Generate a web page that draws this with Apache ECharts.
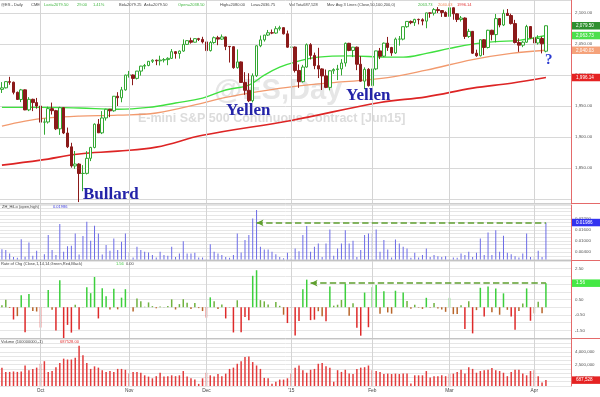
<!DOCTYPE html>
<html>
<head>
<meta charset="utf-8">
<script src="https://cdn.jsdelivr.net/npm/echarts@6/dist/echarts.min.js"></script>
<style>
html,body{margin:0;padding:0;background:#fff;}
#main{width:600px;height:397px;}
</style>
</head>
<body>
<div id="main"></div>
<script>
// trading days (last six are empty room right of the last bar)
var dates = [
 '2014-09-17','2014-09-18','2014-09-19','2014-09-22','2014-09-23','2014-09-24','2014-09-25','2014-09-26','2014-09-29','2014-09-30',
 '2014-10-01','2014-10-02','2014-10-03','2014-10-06','2014-10-07','2014-10-08','2014-10-09','2014-10-10','2014-10-13','2014-10-14',
 '2014-10-15','2014-10-16','2014-10-17','2014-10-20','2014-10-21','2014-10-22','2014-10-23','2014-10-24','2014-10-27','2014-10-28',
 '2014-10-29','2014-10-30','2014-10-31','2014-11-03','2014-11-04','2014-11-05','2014-11-06','2014-11-07','2014-11-10','2014-11-11',
 '2014-11-12','2014-11-13','2014-11-14','2014-11-17','2014-11-18','2014-11-19','2014-11-20','2014-11-21','2014-11-24','2014-11-25',
 '2014-11-26','2014-11-27','2014-11-28','2014-12-01','2014-12-02','2014-12-03','2014-12-04','2014-12-05','2014-12-08','2014-12-09',
 '2014-12-10','2014-12-11','2014-12-12','2014-12-15','2014-12-16','2014-12-17','2014-12-18','2014-12-19','2014-12-22','2014-12-23',
 '2014-12-24','2014-12-26','2014-12-29','2014-12-30','2014-12-31','2015-01-02','2015-01-05','2015-01-06','2015-01-07','2015-01-08',
 '2015-01-09','2015-01-12','2015-01-13','2015-01-14','2015-01-15','2015-01-16','2015-01-19','2015-01-20','2015-01-21','2015-01-22',
 '2015-01-23','2015-01-26','2015-01-27','2015-01-28','2015-01-29','2015-01-30','2015-02-02','2015-02-03','2015-02-04','2015-02-05',
 '2015-02-06','2015-02-09','2015-02-10','2015-02-11','2015-02-12','2015-02-13','2015-02-16','2015-02-17','2015-02-18','2015-02-19',
 '2015-02-20','2015-02-23','2015-02-24','2015-02-25','2015-02-26','2015-02-27','2015-03-02','2015-03-03','2015-03-04','2015-03-05',
 '2015-03-06','2015-03-09','2015-03-10','2015-03-11','2015-03-12','2015-03-13','2015-03-16','2015-03-17','2015-03-18','2015-03-19',
 '2015-03-20','2015-03-23','2015-03-24','2015-03-25','2015-03-26','2015-03-27','2015-03-30','2015-03-31','2015-04-01','2015-04-02',
 '2015-04-03','2015-04-06',
 '2015-04-07','2015-04-08','2015-04-09','2015-04-10','2015-04-13','2015-04-14'
];

var monthStarts = ['2014-10-01','2014-11-03','2014-12-01','2015-01-02','2015-02-02','2015-03-02','2015-04-01'];
var monthNames = ['Oct','Nov','Dec',"'15",'Feb','Mar','Apr'];

var opens = [
 1977,1979.5,1989.5,1988.5,1972.25,1960.75,1976.25,1944,1961,1955.75,
 1950.25,1924.25,1924.5,1946,1942.75,1913.5,1947.5,1906.75,1884.5,1853.75,
 1856.75,1841.5,1841.75,1866,1883.5,1921,1907,1931,1945,1942.5,
 1966,1963.5,1976.25,2000,2000.25,1994.75,2006.5,2014.5,2015.5,2022.25,
 2024,2023,2024.25,2025,2027,2037.75,2034.75,2038.75,2049.5,2055.5,
 2053,2058.75,2057.5,2053.5,2039.5,2052.5,2060.25,2058,2061.5,2046.25,
 2045.75,2012,2021.25,1988.25,1975.5,1958.75,1999,2047.25,2056.75,2064.5,
 2068.25,2067.75,2074.75,2076.5,2066.5,2045,2045.25,2007.5,1989.5,2013,
 2049,2031.75,2015.25,2010,1998.75,1980.25,2007,2009,2010,2019.5,
 2051.25,2039.75,2045,2017.5,1990.25,2009.25,1983,2010,2039,2030.5,
 2051.5,2044.5,2035.75,2058,2058,2078,2086.5,2084.5,2089.75,2089.25,
 2087,2100.25,2099.75,2105.5,2104,2100.75,2094.5,2108.5,2098.75,2089.5,
 2092,2062.25,2070.5,2035.25,2031.25,2057,2044.5,2072.25,2065.25,2091,
 2080.75,2099.5,2096,2083,2052.5,2048.25,2053,2078.25,2060,2051.75,
 2059,2038.5
];
var highs = [
 1988.75,1990.25,1997.25,1989.5,1973.5,1977.75,1977,1964.5,1962,1963.25,
 1951,1930.25,1949.25,1955.75,1944,1949,1948,1915.5,1891,1877.75,
 1858,1855,1877.5,1884.5,1922.25,1929.25,1942,1945.75,1945.5,1966.25,
 1972.5,1981,2000.75,2006.75,2001,2006.75,2015,2018,2022.75,2025.5,
 2025,2031.25,2027.5,2028.75,2042,2038.5,2039.75,2057.5,2056.25,2060.25,
 2059.25,2060,2061.75,2054,2054.75,2062.25,2063.25,2065.5,2062,2046.5,
 2046.5,2041.5,2022,2004.75,2003,2002.75,2048,2063.75,2064.75,2072.75,
 2073.5,2078.75,2079.5,2077,2071.75,2059.5,2046,2017.25,2016.5,2051,
 2051.5,2036.25,2044,2011,2009,2008,2011,2016.5,2025.75,2052.5,
 2052,2045.5,2046,2030.5,2012.5,2011.25,2012.25,2039.25,2043.75,2052.5,
 2061.5,2045.5,2060.5,2063,2078,2086.5,2088,2090.75,2091,2091.5,
 2100.5,2101,2108,2109.5,2104.5,2102.75,2109,2109,2099.5,2095.25,
 2093,2074.5,2071,2041,2057.5,2058,2073,2073,2098.5,2092,
 2105.5,2106.5,2099,2089,2059.25,2054.75,2081,2079,2061,2064.25,
 2062,2080
];
var lows = [
 1971.25,1978.5,1984.5,1969,1960.25,1956.5,1943.5,1942,1942,1946,
 1919.75,1904,1922,1936.5,1911.5,1903.75,1905,1882.5,1851,1849,
 1795.5,1813,1840,1861.5,1882,1906.75,1905,1926.75,1932.25,1941,
 1950.25,1956.25,1975,1996,1983.75,1993,1999.25,2009.5,2014.25,2019.5,
 2016,2015.5,2020.5,2016,2026,2026.5,2026.5,2037.5,2048.5,2050.75,
 2052.5,2055,2051,2035.5,2038,2050.5,2048.25,2056.75,2040.25,2020.25,
 2010.25,2010.5,1988,1968.25,1956.5,1956,1997,2045,2054,2063,
 2066,2066.5,2071.75,2065.5,2044,2033,2004.25,1979.5,1988,2012,
 2025.25,2009.5,1995.25,1976,1979,1975.5,2002,1992,1999.5,2013.75,
 2038.5,2029,2008,1989.5,1977.25,1981.5,1970,2008,2025.75,2029,
 2039,2031,2034,2047.5,2056,2076.25,2082,2079.25,2081.75,2080.25,
 2075.5,2092.5,2096,2100,2093.75,2093.75,2093,2089.25,2085.5,2086.25,
 2058.25,2060,2034,2029.5,2030,2032.25,2043,2056,2052.75,2077,
 2079,2095.75,2081.5,2051,2037.5,2045,2052,2059,2040.5,2049.25,
 2035,2036.75
];
var closes = [
 1979.5,1989.5,1988.5,1972.25,1960.75,1976.25,1944,1961,1955.75,1950.25,
 1924.25,1924.5,1946,1942.75,1913.5,1947.5,1906.75,1884.5,1853.75,1856.75,
 1841.5,1841.75,1866,1883.5,1921,1907,1931,1945,1942.5,1966,
 1963.5,1976.25,2000,2000.25,1994.75,2006.5,2014.5,2015.5,2022.25,2024,
 2023,2024.25,2025,2027,2037.75,2034.75,2038.75,2049.5,2055.5,2053,
 2058.75,2057.5,2053.5,2039.5,2052.5,2060.25,2058,2061.5,2046.25,2045.75,
 2012,2021.25,1988.25,1975.5,1958.75,1999,2047.25,2056.75,2064.5,2068.25,
 2067.75,2074.75,2076.5,2066.5,2045,2045.25,2007.5,1989.5,2013,2049,
 2031.75,2015.25,2010,1998.75,1980.25,2007,2009,2010,2019.5,2051.25,
 2039.75,2045,2017.5,1990.25,2009.25,1983,2010,2039,2030.5,2051.5,
 2044.5,2035.75,2058,2058,2078,2086.5,2084.5,2089.75,2089.25,2087,
 2100.25,2099.75,2105.5,2104,2100.75,2094.5,2108.5,2098.75,2089.5,2092,
 2062.25,2070.5,2035.25,2031.25,2057,2044.5,2072.25,2065.25,2091,2080.75,
 2099.5,2096,2083,2052.5,2048.25,2053,2078.25,2060,2051.75,2059,
 2050.5,2079.5
];

// moving averages read at sample bars: [bar index, value]
var ma50Pts = [[0,1948],[10,1948],[20,1947],[30,1945],[38,1948],[45,1955],[52,1963],[58,1976],[64,1984],[68,2000],[72,2013],[76,2021],[82,2029],[90,2031],[100,2029],[104,2029],[110,2035],[116,2043],[122,2050],[128,2054],[134,2056],[141,2063.73]];
var ma100Pts = [[0,1918],[6,1926],[12,1931],[20,1934],[30,1935.5],[40,1939],[52,1955],[58,1964],[66,1973],[76,1982],[88,1989],[100,1996],[110,2008],[122,2025],[132,2035],[141,2040.03]];
var ma200Pts = [[0,1855],[10,1863],[20,1873],[30,1877.5],[40,1884],[52,1903],[75,1927],[98,1956],[110,1965],[122,1979],[132,1987],[141,1996.14]];

var hiLo = [
 0.0056,0.0051,0.0033,0.0014,0.0010,0.0110,0.0015,0.0092,0.0020,0.0047,
 0.0027,0.0029,0.0132,0.0051,0.0024,0.0192,0.0042,0.0072,0.0074,0.0141,
 0.0027,0.0127,0.0204,0.0101,0.0183,0.0141,0.0027,0.0078,0.0047,0.0114,
 0.0051,0.0096,0.0141,0.0038,0.0011,0.0069,0.0051,0.0042,0.0038,0.0024,
 0.0011,0.0042,0.0024,0.0020,0.0069,0.0014,0.0033,0.0099,0.0033,0.0033,
 0.0036,0.0011,0.0011,0.0005,0.0083,0.0042,0.0033,0.0024,0.0014,0.0009,
 0.0024,0.0141,0.0038,0.0105,0.0132,0.0222,0.0268,0.0069,0.0054,0.0054,
 0.0042,0.0029,0.0014,0.0007,0.0036,0.0007,0.0060,0.0045,0.0132,0.0181,
 0.0042,0.0069,0.0087,0.0014,0.0087,0.0163,0.0020,0.0060,0.0087,0.0159,
 0.0087,0.0101,0.0014,0.0051,0.0132,0.0141,0.0141,0.0163,0.0042,0.0105,
 0.0054,0.0011,0.0108,0.0087,0.0069,0.0060,0.0010,0.0036,0.0011,0.0024,
 0.0060,0.0014,0.0024,0.0018,0.0014,0.0018,0.0054,0.0011,0.0010,0.0033,
 0.0024,0.0042,0.0014,0.0036,0.0114,0.0024,0.0146,0.0024,0.0159,0.0042,
 0.0128,0.0036,0.0029,0.0018,0.0011,0.0033,0.0141,0.0014,0.0014,0.0047,
 0.0014,0.01986
];

var rateChg = [
 0.13,0.49,-0.05,-0.80,-0.58,0.78,-1.62,0.86,-0.25,-0.28,
 -1.32,0.01,1.12,-0.16,-1.51,1.75,-2.07,-1.15,-1.65,0.16,
 -1.45,0.01,1.29,0.91,1.96,-0.73,1.23,0.71,-0.15,1.19,
 -0.14,0.62,1.17,-0.01,-0.28,0.57,0.38,0.03,0.31,0.07,
 -0.07,0.05,0.02,0.07,0.51,-0.15,0.20,0.52,0.29,-0.12,
 0.28,-0.06,-0.25,-0.68,0.64,0.38,-0.12,0.17,-0.73,-0.02,
 -1.64,0.45,-1.62,-0.63,-0.85,2.04,2.40,0.46,0.38,0.17,
 -0.01,0.33,0.09,-0.49,-1.03,-0.03,-1.83,-0.89,1.16,1.79,
 -0.84,-0.81,-0.26,-0.58,-0.92,1.34,0.10,0.16,0.47,1.53,
 -0.55,0.26,-1.34,-1.85,0.95,-1.30,1.30,1.44,-0.42,1.03,
 -0.34,-0.42,1.07,0.00,0.96,0.41,-0.10,0.16,-0.03,-0.11,
 0.61,-0.03,0.28,-0.08,-0.15,-0.30,0.61,-0.45,-0.44,0.12,
 -1.42,0.39,-1.70,-0.19,1.26,-0.61,1.35,-0.33,1.22,-0.49,
 0.90,-0.17,-0.61,-1.46,-0.24,0.24,1.22,-0.88,-0.40,0.35,
 -0.40,1.56
];

var volumes = [
 2150000,1650000,1650000,1700000,1650000,1700000,2400000,1850000,2000000,2150000,
 2600000,2900000,1650000,1750000,2200000,2700000,3200000,3100000,3100000,3300000,
 4700000,3600000,2700000,2000000,2300000,2150000,1850000,1650000,1750000,1650000,
 2000000,2000000,1900000,1450000,1650000,1650000,1550000,1250000,1100000,900000,
 1150000,1550000,1100000,1150000,1250000,1150000,1250000,1750000,1100000,900000,
 750000,250000,900000,1550000,1250000,1100000,1400000,1150000,1450000,2000000,
 2150000,2600000,2900000,3400000,3450000,2800000,2400000,2000000,950000,900000,
 250000,500000,750000,750000,900000,1450000,2150000,2400000,1850000,1550000,
 1900000,2000000,2600000,2700000,2300000,2150000,500000,1850000,1650000,1900000,
 1450000,1400000,2000000,2150000,2200000,2400000,1850000,1750000,1650000,1400000,
 1450000,1400000,1450000,1400000,1450000,1450000,300000,1250000,1250000,1250000,
 1750000,1000000,1150000,1150000,1250000,1150000,1400000,1450000,1650000,1900000,
 1450000,2200000,2000000,1550000,1750000,1850000,1900000,2100000,1850000,1750000,
 1550000,1150000,1650000,1900000,1900000,1450000,1250000,1750000,1850000,1150000,
 400000,687528
];

var chart = echarts.init(document.getElementById('main'));

var candles = [];
for (var i = 0; i < closes.length; i++) {
    candles.push([opens[i], closes[i], lows[i], highs[i]]);
}
var lastDate = dates[closes.length - 1];

function fmt2(v) {
    return v.toLocaleString('en-US', {minimumFractionDigits: 2, maximumFractionDigits: 2});
}

var smallFont = 'Liberation Sans';
var axisRed = '#e46a6a';

function monthLines() {
    return monthStarts.map(function (d) {
        return {xAxis: d, lineStyle: {color: '#d4d4d4', width: 1, type: 'solid'}, label: {show: false}};
    });
}
// coloured value box sitting on the right axis
function boxLine(val, text, bg, fg) {
    return {
        yAxis: val,
        lineStyle: {color: 'rgba(0,0,0,0)', width: 1},
        label: {
            show: true, position: 'end', formatter: text, distance: 1,
            backgroundColor: bg, color: fg || '#fff', fontSize: 4.6, fontFamily: smallFont,
            padding: [1.5, 5, 1, 4], width: 19
        }
    };
}
function dashedArrow(fromIdx, val) {
    return [
        {coord: [dates[fromIdx], val], symbol: 'arrow', symbolSize: [5, 7]},
        {coord: [lastDate, val], symbol: 'none', lineStyle: {color: '#5f9f2f', type: 'dashed', width: 1.6}, label: {show: false}}
    ];
}

var gridPos = [
    {left: 0, right: 29, top: 0, height: 203},
    {left: 0, right: 29, top: 205, height: 54.5},
    {left: 0, right: 29, top: 261, height: 77},
    {left: 0, right: 29, top: 339, height: 47}
];

var xAxes = gridPos.map(function (g, k) {
    return {
        type: 'category', gridIndex: k, data: dates, boundaryGap: true,
        axisLine: {show: false}, axisTick: {show: false}, splitLine: {show: false},
        axisLabel: k === 3 ? {
            show: true, fontSize: 4.8, color: '#444', fontFamily: smallFont, margin: 2,
            interval: function (idx, val) { return monthStarts.indexOf(val) >= 0; },
            formatter: function (val) { return monthNames[monthStarts.indexOf(val)]; }
        } : {show: false}
    };
});

function yBase(k) {
    return {
        type: 'value', gridIndex: k, position: 'right', scale: false,
        axisLine: {show: true, lineStyle: {color: axisRed, width: 1}},
        axisTick: {show: false},
        splitLine: {show: true, lineStyle: {color: k === 0 ? '#d8d8d8' : '#e6e6e6', width: 1}},
        axisLabel: {fontSize: 4.4, color: '#555', fontFamily: smallFont, margin: 4, showMinLabel: false, showMaxLabel: false}
    };
}

var yPrice = yBase(0);
yPrice.min = 1794; yPrice.max = 2121; yPrice.splitNumber = 6;
yPrice.axisLabel.formatter = function (v) { return (v % 50 === 0 && v >= 1850) ? fmt2(v) : ''; };

var yHiLo = yBase(1);
yHiLo.min = 0; yHiLo.max = 0.0295; yHiLo.interval = 0.002;
yHiLo.axisLabel.formatter = function (v) {
    var r = Math.round(v * 1000);
    return [4, 10, 16, 22].indexOf(r) >= 0 ? v.toFixed(5) : '';
};

var yRoc = yBase(2);
yRoc.min = -2; yRoc.max = 3; yRoc.interval = 0.5;
yRoc.axisLabel.formatter = function (v) {
    return Math.abs(Math.round(v * 2)) % 2 === 1 ? v.toFixed(2) : '';
};

var yVol = yBase(3);
yVol.min = 0; yVol.max = 5500000; yVol.interval = 500000;
yVol.axisLabel.formatter = function (v) {
    return (v === 1000000 || v === 2500000 || v === 4000000) ? v.toLocaleString('en-US') : '';
};

function txt(x, y, s, color, font) {
    return {type: 'text', left: x, top: y, silent: true, z: 50,
        style: {text: s, fill: color, font: font || ('4px "' + smallFont + '"')}};
}
function hline(y, x1, x2, color) {
    return {type: 'line', silent: true, z: 40, shape: {x1: x1, y1: y, x2: x2, y2: y}, style: {stroke: color, lineWidth: 1}};
}

var annoFont = 'bold 17px "Liberation Serif"';
var annoColor = '#2323a8';
var hdrDark = '#444', hdrGreen = '#3fb53f';

var graphics = [
    {type: 'text', left: 214, top: 76, silent: true, z: 0,
        style: {text: '@ES,Day', fill: '#e6e6e6', font: 'bold 29px "Liberation Sans"'}},
    {type: 'text', left: 138, top: 112, silent: true, z: 0,
        style: {text: 'E-mini S&P 500 Continuous Contract [Jun15]', fill: '#dcdcdc', font: 'bold 12.5px "Liberation Sans"'}},
    hline(204, 0, 571, '#c4c4c4'), hline(260.5, 0, 571, '#c4c4c4'), hline(338.5, 0, 571, '#c4c4c4'),
    hline(203.5, 571, 600, axisRed), hline(260.5, 571, 600, axisRed), hline(338.5, 571, 600, axisRed),
    txt(1, 3, '@ES - Daily', hdrDark),
    txt(31, 3, 'CME', hdrDark),
    txt(44, 3, 'Last=2079.50', hdrGreen),
    txt(77, 3, '29.00', hdrGreen),
    txt(93, 3, '1.41%', hdrGreen),
    txt(119, 3, 'Bid=2079.25', hdrDark),
    txt(144, 3, 'Ask=2079.50', hdrDark),
    txt(178, 3, 'Open=2038.50', hdrGreen),
    txt(220, 3, 'High=2080.00', hdrDark),
    txt(251, 3, 'Low=2036.75', hdrDark),
    txt(289, 3, 'Vol Tot=687,528', hdrDark),
    txt(327, 3, 'Mov Avg 3 Lines (Close,50,100,200,0)', hdrDark),
    txt(418, 3, '2063.73', hdrGreen),
    txt(438, 3, '2040.03', '#ef8a5a'),
    txt(457, 3, '1996.14', '#e03030'),
    txt(2, 205, 'ZH_HiLo (open,high)', hdrDark),
    txt(53, 205, '0.01986', '#4040e0'),
    txt(1, 262, 'Rate of Chg (Close,1,14,14,Green,Red,Black)', hdrDark),
    txt(116, 262, '1.56', '#3fc83f'),
    txt(126, 262, '0.00', hdrDark),
    txt(1, 340, 'Volume (100000000,-1)', hdrDark),
    txt(60, 340, '687528.00', '#e03030'),
    {type: 'text', left: 83, top: 186, z: 60, silent: true, style: {text: 'Bullard', fill: annoColor, font: annoFont}},
    {type: 'text', left: 226, top: 102, z: 60, silent: true, style: {text: 'Yellen', fill: annoColor, font: annoFont}},
    {type: 'text', left: 346, top: 87, z: 60, silent: true, style: {text: 'Yellen', fill: annoColor, font: annoFont}},
    {type: 'text', left: 545, top: 53, z: 60, silent: true, style: {text: '?', fill: '#2a3ad0', font: 'bold 15px "Liberation Serif"'}}
];

var option = {
    animation: false,
    backgroundColor: '#ffffff',
    grid: gridPos,
    xAxis: xAxes,
    yAxis: [yPrice, yHiLo, yRoc, yVol],
    graphic: graphics,
    series: [
        {
            name: 'ES', type: 'candlestick', xAxisIndex: 0, yAxisIndex: 0, z: 4,
            data: candles, barWidth: 3,
            itemStyle: {color: '#ffffff', color0: '#8b1a1a', borderColor: '#33a833', borderColor0: '#8b1a1a', borderWidth: 1},
            markLine: {silent: true, symbol: ['none', 'none'], animation: false,
                data: monthLines().concat([boxLine(2079.5, '2,079.50', '#2f8f2f')])}
        },
        {
            name: 'MA200', type: 'line', xAxisIndex: 0, yAxisIndex: 0, z: 3,
            data: ma200Pts, smooth: 0.4, showSymbol: false,
            lineStyle: {color: '#dd2424', width: 1.6},
            markLine: {silent: true, symbol: ['none', 'none'], data: [boxLine(1996.14, '1,996.14', '#e52222')]}
        },
        {
            name: 'MA100', type: 'line', xAxisIndex: 0, yAxisIndex: 0, z: 3,
            data: ma100Pts, smooth: 0.4, showSymbol: false,
            lineStyle: {color: '#f29a6e', width: 1.3},
            markLine: {silent: true, symbol: ['none', 'none'], data: [boxLine(2040.03, '2,040.03', '#f5a27a')]}
        },
        {
            name: 'MA50', type: 'line', xAxisIndex: 0, yAxisIndex: 0, z: 3,
            data: ma50Pts, smooth: 0.4, showSymbol: false,
            lineStyle: {color: '#3fe03f', width: 1.4},
            markLine: {silent: true, symbol: ['none', 'none'], data: [boxLine(2063.73, '2,063.73', '#4ddf4d')]}
        },
        {
            name: 'ZH_HiLo', type: 'bar', xAxisIndex: 1, yAxisIndex: 1,
            data: hiLo, barWidth: 1, itemStyle: {color: '#6b6be6'},
            markLine: {silent: true, symbol: ['none', 'none'],
                data: monthLines().concat([boxLine(0.01986, '0.01986', '#3232f0'), dashedArrow(66, 0.01986)])}
        },
        {
            name: 'Rate of Chg', type: 'bar', xAxisIndex: 2, yAxisIndex: 2,
            data: rateChg, barWidth: 1.5,
            itemStyle: {
                color: function (p) {
                    var v = p.value;
                    if (v >= 0) return v >= 0.6 ? '#3ccf3c' : '#6fb23f';
                    return v <= -0.6 ? '#de2a2a' : '#b8652a';
                }
            },
            markLine: {silent: true, symbol: ['none', 'none'],
                data: monthLines().concat([boxLine(1.56, '1.56', '#45e845'), dashedArrow(80, 1.56)])}
        },
        {
            name: 'Volume', type: 'bar', xAxisIndex: 3, yAxisIndex: 3,
            data: volumes, barWidth: 1.5, itemStyle: {color: '#e23c3c'},
            markLine: {silent: true, symbol: ['none', 'none'],
                data: monthLines().concat([boxLine(687528, '687,528', '#e52222')])}
        }
    ]
};

chart.setOption(option);
</script>
</body>
</html>
